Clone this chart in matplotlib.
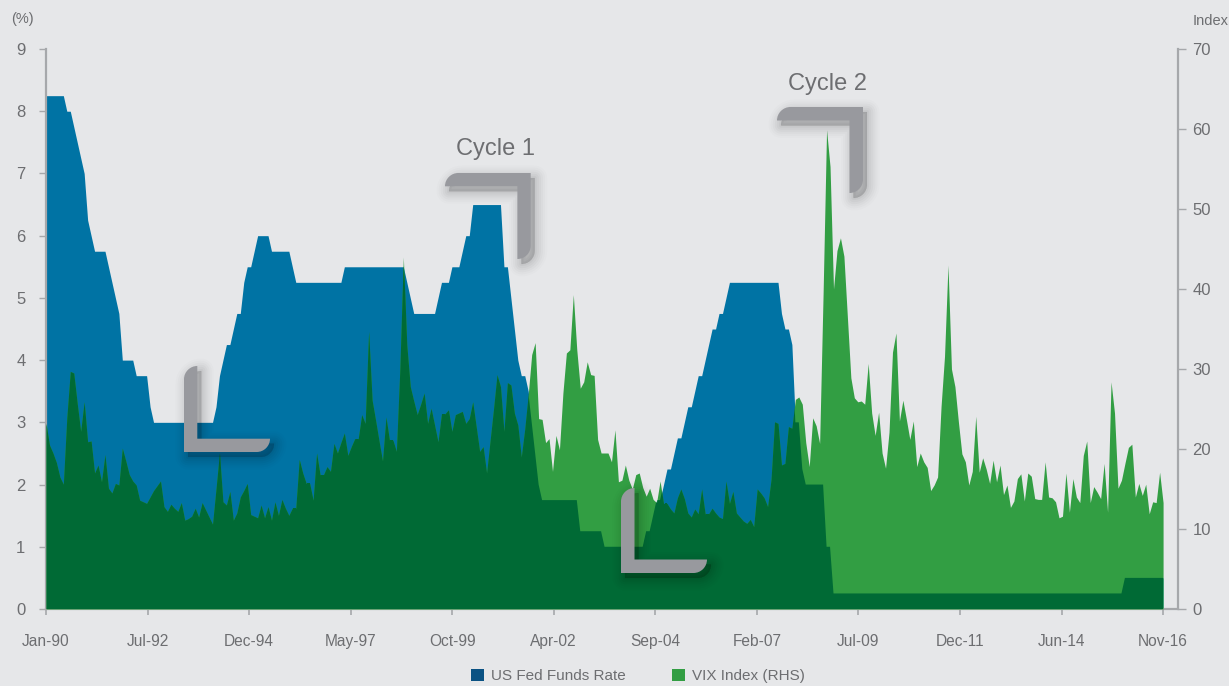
import numpy as np
import matplotlib
matplotlib.use("Agg")
import matplotlib.pyplot as plt
from matplotlib.path import Path
from matplotlib.patches import PathPatch, Patch
from matplotlib.transforms import Affine2D

# ---------------- data (monthly, Jan-90 .. Nov-16) ----------------
fed_funds = [
    8.25, 8.25, 8.25, 8.25, 8.25, 8.25, 8.0, 8.0, 7.75, 7.5, 7.25, 7.0,      # 1990
    6.25, 6.0, 5.75, 5.75, 5.75, 5.75, 5.5, 5.25, 5.0, 4.75, 4.0, 4.0,       # 1991
    4.0, 4.0, 3.75, 3.75, 3.75, 3.75, 3.25, 3.0, 3.0, 3.0, 3.0, 3.0,         # 1992
    3.0, 3.0, 3.0, 3.0, 3.0, 3.0, 3.0, 3.0, 3.0, 3.0, 3.0, 3.0,              # 1993
    3.0, 3.25, 3.75, 4.0, 4.25, 4.25, 4.5, 4.75, 4.75, 5.25, 5.5, 5.5,       # 1994
    5.75, 6.0, 6.0, 6.0, 6.0, 5.75, 5.75, 5.75, 5.75, 5.75, 5.75, 5.5,      # 1995
    5.25, 5.25, 5.25, 5.25, 5.25, 5.25, 5.25, 5.25, 5.25, 5.25, 5.25, 5.25,  # 1996
    5.25, 5.25, 5.5, 5.5, 5.5, 5.5, 5.5, 5.5, 5.5, 5.5, 5.5, 5.5,            # 1997
    5.5, 5.5, 5.5, 5.5, 5.5, 5.5, 5.5, 5.5, 5.25, 5.0, 4.75, 4.75,           # 1998
    4.75, 4.75, 4.75, 4.75, 4.75, 5.0, 5.25, 5.25, 5.25, 5.5, 5.5, 5.5,      # 1999
    5.75, 6.0, 6.0, 6.5, 6.5, 6.5, 6.5, 6.5, 6.5, 6.5, 6.5, 6.5,             # 2000
    5.5, 5.5, 5.0, 4.5, 4.0, 3.75, 3.75, 3.5, 3.0, 2.5, 2.0, 1.75,           # 2001
    1.75, 1.75, 1.75, 1.75, 1.75, 1.75, 1.75, 1.75, 1.75, 1.75, 1.25, 1.25,  # 2002
    1.25, 1.25, 1.25, 1.25, 1.25, 1.0, 1.0, 1.0, 1.0, 1.0, 1.0, 1.0,         # 2003
    1.0, 1.0, 1.0, 1.0, 1.0, 1.25, 1.25, 1.5, 1.75, 1.75, 2.0, 2.25,         # 2004
    2.25, 2.5, 2.75, 2.75, 3.0, 3.25, 3.25, 3.5, 3.75, 3.75, 4.0, 4.25,      # 2005
    4.5, 4.5, 4.75, 4.75, 5.0, 5.25, 5.25, 5.25, 5.25, 5.25, 5.25, 5.25,     # 2006
    5.25, 5.25, 5.25, 5.25, 5.25, 5.25, 5.25, 5.25, 4.75, 4.5, 4.5, 4.25,    # 2007
    3.0, 3.0, 2.25, 2.0, 2.0, 2.0, 2.0, 2.0, 2.0, 1.0, 1.0, 0.25,            # 2008
    0.25, 0.25, 0.25, 0.25, 0.25, 0.25, 0.25, 0.25, 0.25, 0.25, 0.25, 0.25,  # 2009
    0.25, 0.25, 0.25, 0.25, 0.25, 0.25, 0.25, 0.25, 0.25, 0.25, 0.25, 0.25,  # 2010
    0.25, 0.25, 0.25, 0.25, 0.25, 0.25, 0.25, 0.25, 0.25, 0.25, 0.25, 0.25,  # 2011
    0.25, 0.25, 0.25, 0.25, 0.25, 0.25, 0.25, 0.25, 0.25, 0.25, 0.25, 0.25,  # 2012
    0.25, 0.25, 0.25, 0.25, 0.25, 0.25, 0.25, 0.25, 0.25, 0.25, 0.25, 0.25,  # 2013
    0.25, 0.25, 0.25, 0.25, 0.25, 0.25, 0.25, 0.25, 0.25, 0.25, 0.25, 0.25,  # 2014
    0.25, 0.25, 0.25, 0.25, 0.25, 0.25, 0.25, 0.25, 0.25, 0.25, 0.25, 0.5,   # 2015
    0.5, 0.5, 0.5, 0.5, 0.5, 0.5, 0.5, 0.5, 0.5, 0.5, 0.5,                   # 2016
]

vix_index = [
    23.2, 20.5, 19.5, 18.3, 16.5, 15.6, 23.9, 29.7, 29.5, 25.7, 22.2, 25.9,  # 1990
    20.9, 21.0, 17.0, 18.0, 15.9, 19.3, 15.1, 14.5, 15.7, 15.5, 20.1, 18.5,  # 1991
    16.8, 16.0, 15.5, 13.6, 13.4, 13.2, 14.0, 14.8, 15.4, 16.0, 12.8, 12.2,  # 1992
    13.1, 12.6, 12.2, 13.3, 11.1, 11.3, 11.6, 12.6, 11.5, 13.3, 12.4, 11.5,  # 1993
    10.6, 15.0, 19.5, 13.4, 13.0, 14.7, 11.1, 12.0, 14.0, 14.8, 15.7, 11.8,  # 1994
    11.6, 11.4, 13.0, 11.4, 12.8, 11.1, 13.4, 11.7, 13.7, 12.6, 11.7, 12.6,  # 1995
    12.6, 18.7, 17.0, 15.7, 15.7, 13.6, 19.5, 16.8, 16.8, 17.8, 17.2, 20.7,  # 1996
    19.5, 20.8, 22.0, 19.2, 20.3, 21.3, 21.3, 24.3, 23.2, 34.7, 26.1, 23.6,  # 1997
    21.0, 18.5, 24.0, 21.1, 21.1, 19.7, 30.0, 44.0, 33.0, 27.8, 26.0, 24.3,  # 1998
    25.6, 27.0, 23.2, 25.1, 23.0, 20.9, 24.4, 24.4, 24.9, 22.2, 24.3, 24.5,  # 1999
    24.7, 23.2, 23.8, 25.9, 22.8, 19.7, 20.3, 17.0, 21.0, 25.0, 29.3, 27.8,  # 2000
    22.2, 28.3, 28.0, 24.5, 23.0, 19.0, 22.5, 26.8, 31.8, 33.3, 23.8, 23.7,  # 2001
    20.8, 21.3, 17.2, 21.7, 19.9, 27.0, 32.0, 32.4, 39.3, 32.4, 27.6, 28.4,  # 2002
    30.9, 29.3, 29.2, 21.2, 19.5, 19.5, 19.5, 18.4, 22.4, 15.9, 16.1, 18.0,  # 2003
    16.1, 15.0, 16.8, 17.0, 15.2, 14.1, 15.1, 13.7, 13.3, 16.0, 13.2, 13.2,  # 2004
    12.5, 12.0, 13.9, 15.0, 13.8, 12.0, 11.5, 12.5, 11.9, 15.0, 11.9, 11.9,  # 2005
    12.6, 12.0, 11.5, 11.3, 16.0, 13.2, 14.7, 12.0, 11.5, 11.0, 10.7, 11.2,  # 2006
    10.3, 15.0, 14.5, 13.9, 12.8, 16.2, 23.4, 23.2, 18.0, 18.2, 22.8, 22.6,  # 2007
    26.2, 26.5, 25.6, 20.8, 17.8, 23.9, 22.9, 20.7, 39.4, 59.9, 55.3, 40.0,  # 2008
    44.8, 46.4, 44.1, 36.5, 28.9, 26.4, 25.9, 26.0, 25.6, 30.7, 24.5, 21.7,  # 2009
    24.6, 19.5, 17.6, 22.1, 32.1, 34.5, 23.5, 26.1, 23.7, 21.2, 23.5, 17.8,  # 2010
    19.5, 18.4, 17.7, 14.8, 15.5, 16.5, 25.3, 31.6, 43.0, 30.0, 27.8, 23.4,  # 2011
    19.4, 18.4, 15.5, 17.2, 24.1, 17.1, 18.9, 17.5, 15.7, 18.6, 15.9, 18.0,  # 2012
    14.3, 15.5, 12.7, 13.5, 16.3, 16.9, 13.5, 17.0, 16.6, 13.8, 13.7, 13.7,  # 2013
    18.4, 14.0, 13.9, 13.4, 11.4, 11.6, 17.0, 12.1, 16.3, 14.0, 13.3, 19.2,  # 2014
    21.0, 13.3, 15.3, 14.6, 13.8, 18.2, 12.1, 28.4, 24.5, 15.1, 16.1, 18.2,  # 2015
    20.2, 20.6, 14.0, 15.7, 14.2, 15.6, 11.9, 13.4, 13.3, 17.1, 13.3,        # 2016
]

x_tick_labels = ['Jan-90', 'Jul-92', 'Dec-94', 'May-97', 'Oct-99', 'Apr-02',
                 'Sep-04', 'Feb-07', 'Jul-09', 'Dec-11', 'Jun-14', 'Nov-16']
left_ticks = [0, 1, 2, 3, 4, 5, 6, 7, 8, 9]
right_ticks = [0, 10, 20, 30, 40, 50, 60, 70]
series_names = ['US Fed Funds Rate', 'VIX Index (RHS)']

# ---------------- style ----------------
BG = '#E6E7E9'
BLUE = '#0073A4'
LEG_BLUE = '#0A5283'
DGREEN = '#006A35'
LGREEN = '#329E43'
BRACKET = '#98999E'
SPINE = '#A6A8AB'
TXT = '#6D6E71'

plt.rcParams['font.family'] = ['Liberation Sans', 'DejaVu Sans']

W, H = 1229, 686
fig = plt.figure(figsize=(W / 100, H / 100), dpi=100, facecolor=BG)
ax = fig.add_axes([46 / W, 1 - 609 / H, (1178 - 46) / W, (609 - 49) / H])
ax.set_facecolor(BG)
ax2 = ax.twinx()

x = np.arange(len(fed_funds))
fed_poly = ax.fill_between(x, 0, fed_funds, color=BLUE, lw=0)
ax2.fill_between(x, 0, vix_index, color=LGREEN, lw=0)
overlap = ax2.fill_between(x, 0, vix_index, color=DGREEN, lw=0)
overlap.set_clip_path(fed_poly.get_paths()[0], ax.transData)

ax.set_xlim(0, 326.3)
ax.set_ylim(0, 9)
ax2.set_ylim(0, 70)

for a in (ax, ax2):
    for s in a.spines.values():
        s.set_visible(False)
ax.spines['left'].set_visible(True)
ax.spines['bottom'].set_visible(True)
ax2.spines['right'].set_visible(True)
for s in (ax.spines['left'], ax.spines['bottom'], ax2.spines['right']):
    s.set_color(SPINE)
    s.set_linewidth(1.6)

ax.set_yticks(left_ticks)
ax.set_yticklabels([str(t) for t in left_ticks])
ax2.set_yticks(right_ticks)
ax2.set_yticklabels([str(t) for t in right_ticks])
ax.set_xticks(np.linspace(0, len(fed_funds) - 1, len(x_tick_labels)))
ax.set_xticklabels(x_tick_labels)

ax.tick_params(axis='y', direction='out', length=5.3, width=1, color=SPINE,
               labelcolor=TXT, labelsize=12, pad=9.5)
ax2.tick_params(axis='y', direction='out', length=5.5, width=1, color=SPINE,
                labelcolor=TXT, labelsize=12, pad=5)
ax.tick_params(axis='x', direction='out', length=4.5, width=1.2, color=SPINE,
               labelcolor=TXT, labelsize=11.2, pad=13.5)

fig.text(22 / W, 1 - 19 / H, '(%)', color=TXT, fontsize=10.5, ha='center', va='center')
fig.text(1211 / W, 1 - 21 / H, 'Index', color=TXT, fontsize=10.5, ha='center', va='center')

# ---------------- annotation brackets ----------------
pix = Affine2D().scale(1 / W, -1 / H).translate(0, 1) + fig.transFigure
K = 0.5523


def bracket_top_right(x0, T, R, y1, t):
    verts = [(x0, T + t),
             (x0, T + t - K * t), (x0 + t - K * t, T), (x0 + t, T),
             (R, T), (R, y1 - t),
             (R, y1 - t + K * t), (R - t + K * t, y1), (R - t, y1),
             (R - t, T + t), (x0, T + t)]
    codes = [Path.MOVETO, Path.CURVE4, Path.CURVE4, Path.CURVE4,
             Path.LINETO, Path.LINETO,
             Path.CURVE4, Path.CURVE4, Path.CURVE4,
             Path.LINETO, Path.CLOSEPOLY]
    return Path(verts, codes)


def bracket_bottom_left(L, y0, x1, B, t):
    verts = [(L, B), (L, y0 + t),
             (L, y0 + t - K * t), (L + t - K * t, y0), (L + t, y0),
             (L + t, B - t), (x1, B - t),
             (x1, B - t + K * t), (x1 - t + K * t, B), (x1 - t, B),
             (L, B)]
    codes = [Path.MOVETO, Path.LINETO,
             Path.CURVE4, Path.CURVE4, Path.CURVE4,
             Path.LINETO, Path.LINETO,
             Path.CURVE4, Path.CURVE4, Path.CURVE4,
             Path.CLOSEPOLY]
    return Path(verts, codes)


def draw_bracket(path):
    for w, a in [(18, 0.012), (15, 0.015), (12, 0.018), (9, 0.022), (6, 0.026), (3, 0.03), (0.5, 0.035)]:
        sh = PathPatch(path, transform=Affine2D().translate(4, 5) + pix,
                       facecolor=(0, 0, 0, a), edgecolor=(0, 0, 0, a),
                       lw=w, joinstyle='round', zorder=5)
        fig.add_artist(sh)
    fig.add_artist(PathPatch(path, transform=pix, facecolor=BRACKET,
                             edgecolor='none', zorder=6))


draw_bracket(bracket_top_right(445, 173, 530.7, 259, 13.3))
draw_bracket(bracket_top_right(777, 107, 863, 193, 13.5))
draw_bracket(bracket_bottom_left(184, 366, 270, 452, 13.3))
draw_bracket(bracket_bottom_left(621, 488, 707, 573, 13.5))

fig.text(495 / W, 1 - 149 / H, 'Cycle 1', color=TXT, fontsize=17, ha='center', va='center', zorder=7)
fig.text(827 / W, 1 - 84 / H, 'Cycle 2', color=TXT, fontsize=17, ha='center', va='center', zorder=7)

# ---------------- legend ----------------
handles = [Patch(facecolor=LEG_BLUE, edgecolor='none'), Patch(facecolor=LGREEN, edgecolor='none')]
fig.legend(handles, series_names, loc='center', bbox_to_anchor=(638 / W, 1 - 676 / H),
           ncol=2, frameon=False, fontsize=11, labelcolor=TXT,
           handlelength=0.85, handleheight=0.85, handletextpad=0.45, columnspacing=3.0,
           borderpad=0.1)

fig.savefig('out.png', dpi=100, facecolor=BG)
